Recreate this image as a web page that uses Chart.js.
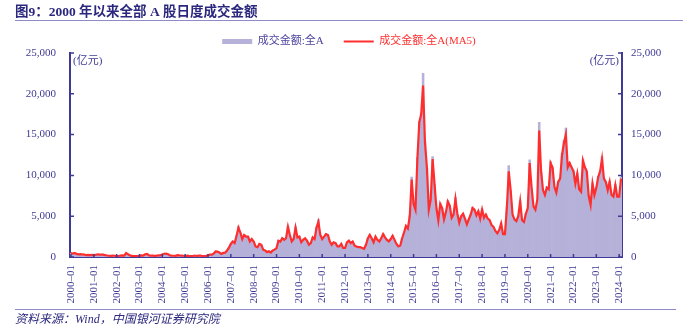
<!DOCTYPE html>
<html>
<head>
<meta charset="utf-8">
<script src="https://cdn.jsdelivr.net/npm/chart.js@4"></script>
<style>
  html, body { margin: 0; padding: 0; background: #fff; }
  #wrap { width: 698px; height: 336px; }
</style>
</head>
<body>
<div id="wrap"><canvas id="turnoverChart" width="698" height="336"></canvas></div>
<script>
const startYear = 2000;
const endYear = 2024;
const monthsInLastYear = 2;
const yTicks = [0, 5000, 10000, 15000, 20000, 25000];
const seriesNames = ["成交金额:全A", "成交金额:全A(MA5)"];

// daily turnover (亿元)
const dailyTurnover = [
  470, 430, 490, 380, 320, 340, 300, 300, 230, 250, 240, 260, // 2000
  230, 260, 320, 300, 290, 280, 220, 190, 150, 150, 170, 150, // 2001
  110, 130, 170, 200, 180, 500, 320, 200, 130, 130, 110, 110, // 2002
  150, 200, 190, 320, 380, 210, 180, 170, 150, 160, 190, 200, // 2003
  310, 390, 430, 340, 210, 170, 150, 140, 240, 200, 180, 150, // 2004
  120, 150, 130, 110, 120, 190, 120, 150, 180, 120, 110, 140, // 2005
  220, 270, 290, 410, 700, 640, 550, 370, 510, 510, 820, 1180, // 2006
  1580, 1950, 1680, 2650, 3750, 2950, 2180, 2750, 2470, 2530, 1880, 2230, // 2007
  1880, 1320, 1180, 1650, 1480, 920, 790, 610, 690, 560, 790, 910, // 2008
  1080, 2050, 1880, 2330, 2080, 2330, 3800, 2680, 1880, 2230, 3700, 2380, // 2009
  2480, 1780, 2130, 2280, 2030, 1480, 1720, 2380, 2230, 3650, 4600, 2680, // 2010
  2230, 2480, 2850, 2680, 1880, 1520, 1780, 1720, 1280, 1320, 1580, 1120, // 2011
  1080, 1830, 1980, 1720, 1880, 1420, 1280, 1220, 1180, 1120, 980, 1530, // 2012
  2280, 2750, 2280, 1820, 2480, 2130, 1880, 2330, 2850, 2380, 2130, 1880, // 2013
  2180, 2630, 2080, 1620, 1280, 1420, 2280, 3050, 3780, 3530, 5100, 9800, // 2014
  6400, 5750, 12200, 16600, 17600, 22500, 14100, 10900, 5700, 7100, 12300, 8900, // 2015
  5900, 4450, 6600, 5950, 4550, 5550, 6900, 6250, 4750, 5250, 7300, 5250, // 2016
  4150, 5050, 5250, 4650, 3950, 4650, 5250, 6100, 5750, 5050, 5650, 4650, // 2017
  5900, 4750, 5250, 4650, 4450, 3850, 3650, 3150, 2850, 3350, 4150, 2750, // 2018
  2750, 6100, 11200, 8100, 5150, 4550, 4350, 5050, 6900, 4450, 4250, 5350, // 2019
  5900, 11900, 8400, 6100, 5750, 7100, 16500, 10400, 8100, 7500, 8600, 8200, // 2020
  11700, 10900, 8500, 7800, 9300, 9500, 12700, 14300, 15800, 10900, 11600, 10900, // 2021
  10600, 8900, 10300, 8200, 7900, 12000, 10900, 10400, 7400, 6300, 9100, 7500, // 2022
  8400, 9900, 10400, 12300, 9500, 9100, 8100, 9300, 7500, 7300, 8900, 7300, // 2023
  7300, 9800, // 2024
];

// 5-day moving average (亿元)
const turnoverMA5 = [
  480, 420, 500, 380, 320, 340, 310, 300, 220, 250, 230, 260, // 2000
  230, 250, 330, 300, 280, 290, 220, 180, 150, 140, 170, 150, // 2001
  110, 120, 180, 200, 170, 480, 330, 200, 130, 120, 110, 110, // 2002
  150, 200, 180, 330, 370, 200, 180, 170, 150, 160, 200, 200, // 2003
  300, 400, 420, 350, 200, 170, 150, 140, 230, 200, 180, 150, // 2004
  120, 160, 130, 110, 120, 180, 120, 160, 180, 120, 110, 140, // 2005
  220, 280, 280, 420, 680, 650, 550, 380, 500, 520, 800, 1150, // 2006
  1600, 1900, 1700, 2600, 3600, 3000, 2200, 2700, 2500, 2500, 1900, 2200, // 2007
  1900, 1300, 1200, 1600, 1500, 900, 800, 600, 700, 550, 800, 900, // 2008
  1100, 2000, 1900, 2300, 2100, 2300, 3700, 2700, 1900, 2200, 3600, 2400, // 2009
  2500, 1800, 2100, 2300, 2000, 1500, 1700, 2400, 2200, 3600, 4300, 2700, // 2010
  2200, 2500, 2800, 2700, 1900, 1500, 1800, 1700, 1300, 1300, 1600, 1100, // 2011
  1100, 1800, 2000, 1700, 1900, 1400, 1300, 1200, 1200, 1100, 1000, 1500, // 2012
  2300, 2700, 2300, 1800, 2500, 2100, 1900, 2300, 2800, 2400, 2100, 1900, // 2013
  2200, 2600, 2100, 1600, 1300, 1400, 2300, 3000, 3800, 3500, 5000, 9500, // 2014
  6500, 5800, 12000, 16500, 17500, 21000, 14000, 11000, 5800, 7000, 12000, 9000, // 2015
  6000, 4500, 6500, 6000, 4600, 5500, 6800, 6300, 4800, 5200, 7100, 5300, // 2016
  4200, 5000, 5300, 4700, 4000, 4600, 5200, 6000, 5800, 5100, 5600, 4700, // 2017
  5800, 4800, 5200, 4700, 4500, 3900, 3700, 3200, 2900, 3300, 4100, 2800, // 2018
  2800, 6000, 10500, 8200, 5200, 4600, 4400, 5000, 6800, 4500, 4300, 5300, // 2019
  6000, 11500, 8500, 6200, 5800, 7000, 15500, 10500, 8200, 7600, 8500, 8300, // 2020
  11500, 11000, 8600, 7900, 9200, 9600, 12500, 14000, 15000, 11000, 11500, 11000, // 2021
  10500, 9000, 10200, 8300, 8000, 11800, 11000, 10500, 7500, 6400, 9000, 7600, // 2022
  8500, 9800, 10500, 12000, 9600, 9200, 8200, 9200, 7600, 7400, 8800, 7400, // 2023
  7400, 9600, // 2024
];

const months = [];
for (let y = startYear; y <= endYear; y++) {
  const n = y === endYear ? monthsInLastYear : 12;
  for (let m = 1; m <= n; m++) months.push(y + "–" + String(m).padStart(2, "0"));
}

const SERIF = '"Liberation Serif", "Times New Roman", "Noto Sans CJK SC", serif';
const AXIS = "#3f3a96";
const TEXT = "#3d3a94";
const BAR = "#b5b1d9";
const RED = "#ff2e2e";

// title, unit labels, source line, inward tick marks
const decorations = {
  id: "decorations",
  afterDraw(chart) {
    const { ctx, chartArea: a, scales } = chart;
    ctx.save();

    ctx.fillStyle = "#2b287e";
    ctx.font = "bold 13.5px " + SERIF;
    ctx.textBaseline = "alphabetic";
    ctx.textAlign = "left";
    ctx.fillText("图9：2000 年以来全部 A 股日度成交金额", 15, 16);

    ctx.strokeStyle = "#8f8bc9";
    ctx.lineWidth = 1;
    ctx.beginPath();
    ctx.moveTo(15, 20.5); ctx.lineTo(683, 20.5);
    ctx.moveTo(15, 309.5); ctx.lineTo(676, 309.5);
    ctx.stroke();

    ctx.fillStyle = "#2b287e";
    ctx.font = "italic 12px " + SERIF;
    ctx.fillText("资料来源：Wind，中国银河证券研究院", 15, 323);

    ctx.fillStyle = TEXT;
    ctx.font = "11px " + SERIF;
    ctx.fillText("(亿元)", a.left + 3, a.top + 11);
    ctx.textAlign = "right";
    ctx.fillText("(亿元)", a.right - 3, a.top + 11);

    ctx.strokeStyle = AXIS;
    ctx.lineWidth = 1.5;
    ctx.beginPath();
    scales.y.ticks.forEach((t) => {
      const py = scales.y.getPixelForValue(t.value);
      ctx.moveTo(a.left, py); ctx.lineTo(a.left + 4, py);
    });
    scales.y2.ticks.forEach((t) => {
      const py = scales.y2.getPixelForValue(t.value);
      ctx.moveTo(a.right, py); ctx.lineTo(a.right - 4, py);
    });
    months.forEach((m, i) => {
      if (m.endsWith("01")) {
        const px = scales.x.getPixelForValue(i);
        ctx.moveTo(px, a.bottom); ctx.lineTo(px, a.bottom - 3);
      }
    });
    ctx.stroke();
    ctx.restore();
  },
};

const yAxis = (pos, pad, width) => ({
  type: "linear",
  position: pos,
  min: 0,
  max: 25000,
  z: 1,
  afterBuildTicks: (s) => { s.ticks = yTicks.map((v) => ({ value: v })); },
  afterFit: (s) => { s.width = width; },
  grid: { display: false, drawTicks: false },
  border: { display: true, color: AXIS, width: 2 },
  ticks: {
    padding: pad,
    color: TEXT,
    font: { family: SERIF, size: 11 },
    callback: (v) => v.toLocaleString("en-US"),
  },
});

new Chart(document.getElementById("turnoverChart"), {
  type: "bar",
  data: {
    labels: months,
    datasets: [
      {
        type: "bar",
        label: seriesNames[0],
        data: dailyTurnover,
        backgroundColor: BAR,
        borderWidth: 0,
        barPercentage: 1,
        categoryPercentage: 1,
        order: 2,
        yAxisID: "y",
      },
      {
        type: "line",
        label: seriesNames[1],
        data: turnoverMA5,
        borderColor: RED,
        borderWidth: 2.2,
        pointRadius: 0,
        tension: 0,
        fill: false,
        order: 1,
        yAxisID: "y",
      },
    ],
  },
  options: {
    responsive: false,
    devicePixelRatio: 1,
    animation: false,
    layout: { padding: { top: 16, left: 0, right: 0, bottom: 33 } },
    scales: {
      x: {
        z: 1,
        grid: { display: false, drawTicks: false },
        border: { display: true, color: AXIS, width: 2 },
        afterFit: (s) => { s.height = 46; },
        ticks: {
          autoSkip: false,
          minRotation: 90,
          maxRotation: 90,
          padding: 8,
          color: TEXT,
          font: { family: SERIF, size: 11 },
          callback: (v, i) => (months[i].endsWith("01") ? months[i] : ""),
        },
      },
      y: yAxis("left", 14, 70),
      y2: yAxis("right", 9, 76),
    },
    plugins: {
      tooltip: { enabled: false },
      legend: {
        position: "top",
        maxHeight: 37,
        labels: {
          usePointStyle: true,
          pointStyleWidth: 30,
          boxHeight: 5,
          padding: 20,
          font: { family: SERIF, size: 11 },
          generateLabels: () => [
            { text: seriesNames[0], fillStyle: BAR, strokeStyle: BAR, lineWidth: 0, pointStyle: "rect", fontColor: "#4b449e", datasetIndex: 0, hidden: false },
            { text: seriesNames[1], fillStyle: RED, strokeStyle: RED, lineWidth: 2, pointStyle: "line", fontColor: RED, datasetIndex: 1, hidden: false },
          ],
        },
      },
    },
  },
  plugins: [decorations],
});
</script>
</body>
</html>
